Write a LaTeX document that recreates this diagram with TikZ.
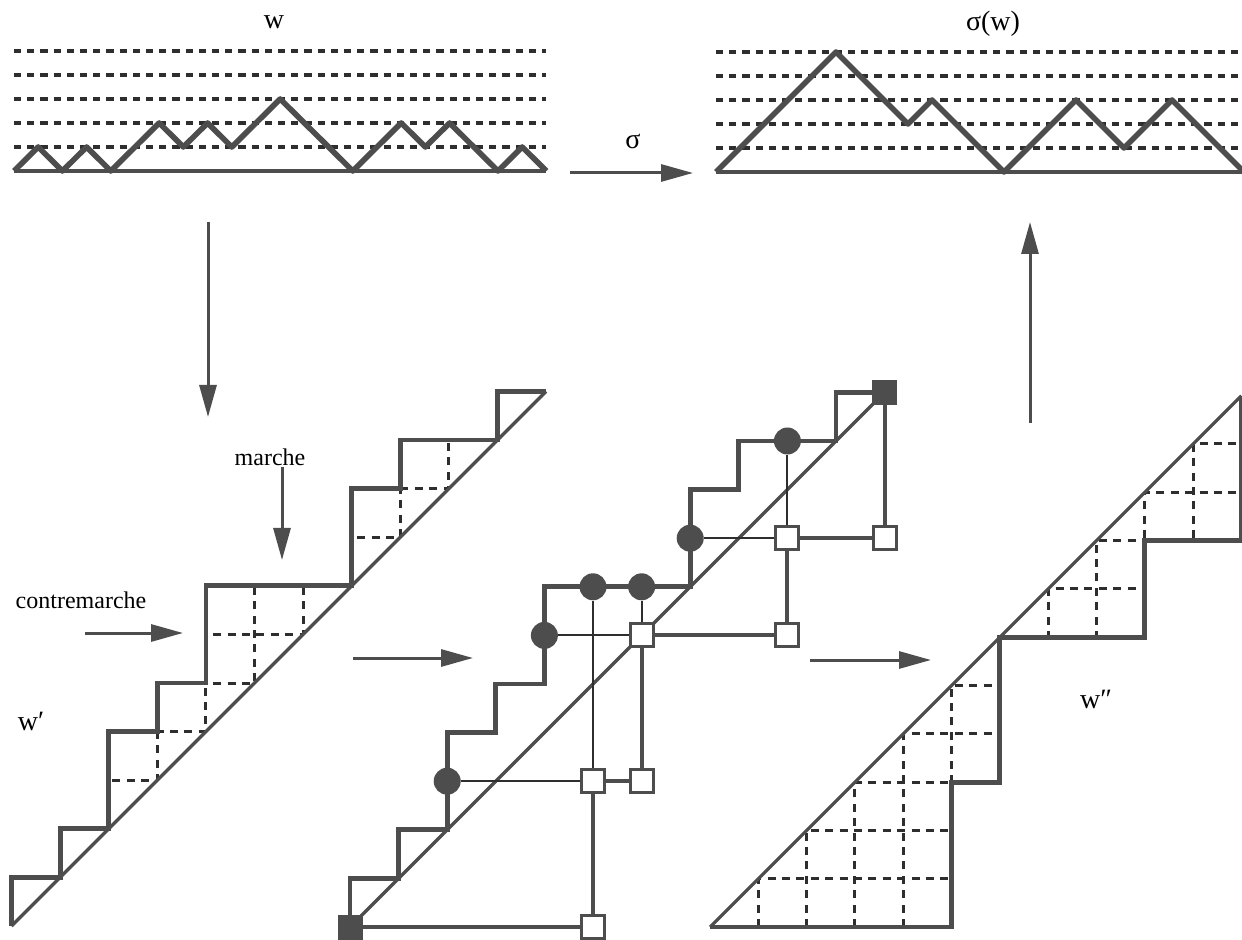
\documentclass[tikz,border=0pt]{standalone}
\usepackage{fontspec}
\setmainfont{Liberation Serif}
\usepackage{tikz}
\usetikzlibrary{arrows.meta}
\definecolor{ink}{HTML}{4D4D4D}
\definecolor{dk}{HTML}{2E2E2E}
% staircase of w' (above the diagonal) and of w'' (below it)
\newcommand{\upstair}{(0,0) -- (0,1) -- (1,1) -- (1,2) -- (2,2) -- (2,4) -- (3,4) -- (3,5) -- (4,5) -- (4,7) -- (7,7) -- (7,9) -- (8,9) -- (8,10) -- (10,10) -- (10,11) -- (11,11)}
\newcommand{\downstair}{(0,0) -- (5,0) -- (5,3) -- (6,3) -- (6,6) -- (9,6) -- (9,8) -- (11,8) -- (11,11)}

\begin{document}
\begin{tikzpicture}[x=0.5pt,y=-0.5pt,
    pth/.style={draw=ink,line width=2.4pt},
    dgl/.style={draw=ink,line width=1.6pt},
    lvl/.style={draw=dk,line width=1.7pt,dash pattern=on 3.6pt off 3pt},
    grd/.style={draw=dk,line width=1.5pt,dash pattern=on 4pt off 3.2pt},
    arr/.style={draw=ink,line width=1.5pt,-{Triangle[length=16pt,width=8.5pt]}},
    blob/.style={circle,fill=ink,inner sep=0pt,minimum size=13.5pt},
    box/.style={rectangle,draw=ink,fill=white,line width=1.5pt,inner sep=0pt,minimum size=11.5pt},
    fbox/.style={rectangle,fill=ink,inner sep=0pt,minimum size=12.5pt},
    thn/.style={draw=dk,line width=1pt},
    thk/.style={draw=ink,line width=2pt},
    lbl/.style={font=\fontsize{14}{16}\selectfont,inner sep=0pt},
    sml/.style={font=\fontsize{12}{14}\selectfont,inner sep=0pt}]
  \useasboundingbox (0,0) rectangle (1242,940);
  \clip (0,0) rectangle (1242,940);

  % Dyck path w
  \begin{scope}[shift={(14,171)},x=12.1pt,y=12pt]
    \foreach \h in {1,...,5}
      \draw[lvl] (0,\h) -- (22,\h);
    \draw[pth,line width=1.8pt] (0,0) -- (22,0);
    \draw[pth,line width=2.8pt,line join=round] (0,0)
      \foreach \s in {1,-1,1,-1,1,1,-1,1,-1,1,1,-1,-1,-1,1,1,-1,1,-1,-1,1,-1} { -- ++(1,\s) };
  \end{scope}

  % Dyck path sigma(w)
  \begin{scope}[shift={(716,172)},x=12pt,y=12pt]
    \foreach \h in {1,...,5}
      \draw[lvl] (0,\h) -- (23,\h);
    \draw[pth,line width=1.8pt] (0,0) -- (23,0);
    \draw[pth,line width=2.8pt,line join=round] (0,0)
      \foreach \s in {1,1,1,1,1,-1,-1,-1,1,-1,-1,-1,1,1,1,-1,-1,1,1,-1,-1,-1} { -- ++(1,\s) };
  \end{scope}

  % w'
  \begin{scope}[shift={(11.5,926)},x=24.3pt,y=24.3pt]
    \begin{scope}
      \clip \upstair -- cycle;
      \draw[grd] (0,0) grid[step=1] (11,11);
    \end{scope}
    \draw[pth] \upstair;
    \draw[dgl] (0,0) -- (11,11);
  \end{scope}

  % matching
  \begin{scope}[shift={(350,927)},x=24.3pt,y=24.3pt]
    \draw[pth] \upstair;
    \draw[dgl] (0,0) -- (11,11);
    \node[fbox] (f0) at (0,0)   {};
    \node[fbox] (f1) at (11,11) {};
    \node[blob] (b1) at (2,3)  {};
    \node[blob] (b2) at (4,6)  {};
    \node[blob] (b3) at (5,7)  {};
    \node[blob] (b4) at (6,7)  {};
    \node[blob] (b5) at (7,8)  {};
    \node[blob] (b6) at (9,10) {};
    \node[box]  (q0) at (5,0)  {};
    \node[box]  (q1) at (5,3)  {};
    \node[box]  (q2) at (6,3)  {};
    \node[box]  (q3) at (6,6)  {};
    \node[box]  (q4) at (9,6)  {};
    \node[box]  (q5) at (9,8)  {};
    \node[box]  (q6) at (11,8) {};
  \end{scope}
  \foreach \a/\b in {b1/q1,b3/q1,b2/q3,b4/q3,b5/q5,b6/q5}
    \draw[thn] (\a) -- (\b);
  \foreach \a/\b in {q1/q2,q1/q0,q0/f0,q3/q2,q3/q4,q5/q4,q5/q6,f1/q6}
    \draw[thk] (\a) -- (\b);

  % w''
  \begin{scope}[shift={(710,927)},x=24.15pt,y=24.15pt]
    \begin{scope}
      \clip \downstair -- cycle;
      \draw[grd] (0,0) grid[step=1] (11,11);
    \end{scope}
    \draw[pth] \downstair;
    \draw[dgl] (0,0) -- (11,11);
  \end{scope}

  % labels
  \node[lbl] (tw)  at (274,22)  {w};
  \node[lbl] (tsw) at (993,24)  {σ(w)};
  \node[lbl] (ts)  at (633,141) {σ};
  \node[lbl] (tw1) at (31,721)  {w′};
  \node[lbl] (tw2) at (1096,699) {w″};
  \node[sml] (tm)  at (270,457) {marche};
  \node[sml] (tc)  at (81,600)  {contremarche};

  % arrows
  \coordinate (dn0) at (208,222);  \coordinate (dn1) at (208,417);
  \coordinate (up0) at (1030,423); \coordinate (up1) at (1030,222);
  \coordinate (sg0) at (570,173);  \coordinate (sg1) at (693,173);
  \coordinate (mr0) at (282,467);  \coordinate (mr1) at (282,560);
  \coordinate (cm0) at (85,633);   \coordinate (cm1) at (183,633);
  \coordinate (ra0) at (353,658);  \coordinate (ra1) at (473,658);
  \coordinate (rb0) at (810,660);  \coordinate (rb1) at (931,660);
  \foreach \a/\b in {dn0/dn1,up0/up1,sg0/sg1,mr0/mr1,cm0/cm1,ra0/ra1,rb0/rb1}
    \draw[arr] (\a) -- (\b);
\end{tikzpicture}
\end{document}
